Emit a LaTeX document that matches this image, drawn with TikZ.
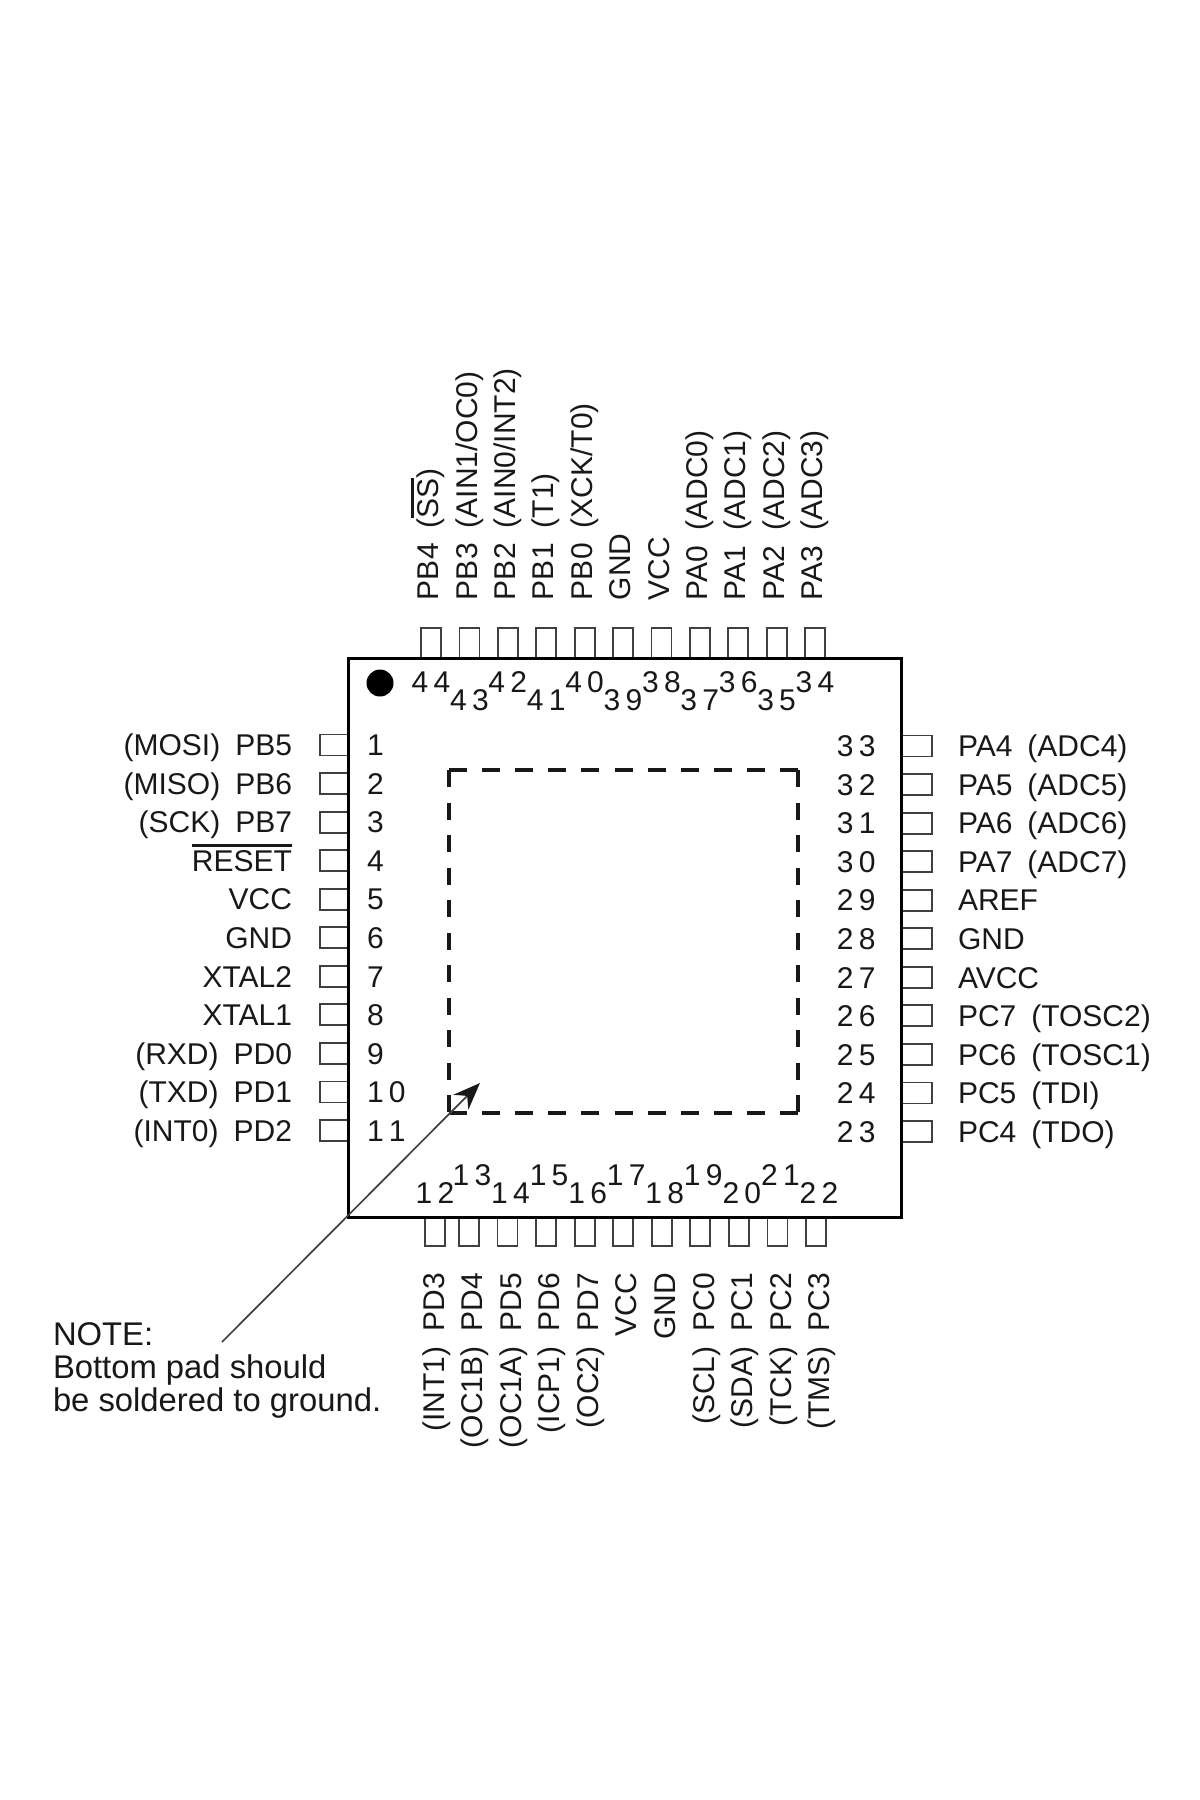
\documentclass[tikz,border=0pt]{standalone}
\usepackage{xcolor}
\usepackage{fontspec}
\usepackage{tikz}
\usetikzlibrary{arrows.meta}
\setmainfont{Liberation Sans}
\definecolor{inkdark}{HTML}{181818}
\definecolor{padgrey}{HTML}{404040}
\newcommand{\pinno}[2]{#1\kern5.3pt #2}
\newcommand{\pingap}{\hspace{15pt}}
\newcommand{\barred}[1]{\leavevmode\setbox0=\hbox{#1}\rlap{\raisebox{24.5pt}{\rule{\wd0}{3pt}}}\box0}
\tikzset{
  pinpad/.style={rectangle, draw=padgrey, line width=1.8pt, inner sep=0pt, outer sep=0pt},
  lpad/.style={pinpad, minimum width=28pt, minimum height=21pt, node distance=38.55pt},
  rpad/.style={pinpad, minimum width=30pt, minimum height=21pt, node distance=38.55pt},
  tpad/.style={pinpad, minimum width=20pt, minimum height=30pt, node distance=38.4pt},
  bpad/.style={pinpad, minimum width=20pt, minimum height=29pt, node distance=38.55pt},
  pintext/.style={text=inkdark, inner sep=0pt, outer sep=0pt, text height=21.5pt, text depth=0pt, font=\fontsize{30}{32}\selectfont},
  ltext/.style={pintext, node distance=42pt, anchor=east},
  rtext/.style={pintext, node distance=41pt, anchor=west},
  ttext/.style={pintext, node distance=43pt, anchor=west, xshift=-3pt, rotate=90},
  btext/.style={pintext, node distance=41.5pt, anchor=east, xshift=3pt, rotate=90},
  lnum/.style={pintext, node distance=33pt, anchor=west},
  rnum/.style={pintext, node distance=41.5pt, anchor=east},
  tnumhigh/.style={pintext, node distance=39pt},
  tnumlow/.style={pintext, node distance=57pt},
  bnumlow/.style={pintext, node distance=38.5pt, xshift=3pt},
  bnumhigh/.style={pintext, node distance=56.5pt, xshift=3pt},
  dashh/.style={draw=inkdark, line width=3.4pt, dash pattern=on 18pt off 15.1pt},
  dashv/.style={draw=inkdark, line width=3.4pt, dash pattern=on 17pt off 15.5pt},
  notearrow/.style={draw=padgrey, line width=1.7pt, -{Stealth[length=27pt, width=21pt, color=inkdark]}},
  notetext/.style={text=inkdark, inner sep=0pt, outer sep=0pt, align=left, anchor=north west, font=\fontsize{32.8}{33}\selectfont}
}
\begin{document}
\begin{tikzpicture}[x=1pt, y=1pt]
\useasboundingbox (0,0) rectangle (1200,-1800);

\node (lpad1) [lpad] at (334,-745) {};
\node (lpad2) [lpad, below of=lpad1] {};
\node (lpad3) [lpad, below of=lpad2] {};
\node (lpad4) [lpad, below of=lpad3] {};
\node (lpad5) [lpad, below of=lpad4] {};
\node (lpad6) [lpad, below of=lpad5] {};
\node (lpad7) [lpad, below of=lpad6] {};
\node (lpad8) [lpad, below of=lpad7] {};
\node (lpad9) [lpad, below of=lpad8] {};
\node (lpad10) [lpad, below of=lpad9] {};
\node (lpad11) [lpad, below of=lpad10] {};

\node (bpad12) [bpad] at (435,-1231.5) {};
\node (bpad13) [bpad, right of=bpad12, node distance=34pt] {};
\node (bpad14) [bpad, right of=bpad13] {};
\node (bpad15) [bpad, right of=bpad14] {};
\node (bpad16) [bpad, right of=bpad15] {};
\node (bpad17) [bpad, right of=bpad16] {};
\node (bpad18) [bpad, right of=bpad17] {};
\node (bpad19) [bpad, right of=bpad18] {};
\node (bpad20) [bpad, right of=bpad19] {};
\node (bpad21) [bpad, right of=bpad20] {};
\node (bpad22) [bpad, right of=bpad21] {};

\node (rpad33) [rpad] at (917,-746) {};
\node (rpad32) [rpad, below of=rpad33] {};
\node (rpad31) [rpad, below of=rpad32] {};
\node (rpad30) [rpad, below of=rpad31] {};
\node (rpad29) [rpad, below of=rpad30] {};
\node (rpad28) [rpad, below of=rpad29] {};
\node (rpad27) [rpad, below of=rpad28] {};
\node (rpad26) [rpad, below of=rpad27] {};
\node (rpad25) [rpad, below of=rpad26] {};
\node (rpad24) [rpad, below of=rpad25] {};
\node (rpad23) [rpad, below of=rpad24] {};

\node (tpad44) [tpad] at (431,-643) {};
\node (tpad43) [tpad, right of=tpad44] {};
\node (tpad42) [tpad, right of=tpad43] {};
\node (tpad41) [tpad, right of=tpad42] {};
\node (tpad40) [tpad, right of=tpad41] {};
\node (tpad39) [tpad, right of=tpad40] {};
\node (tpad38) [tpad, right of=tpad39] {};
\node (tpad37) [tpad, right of=tpad38] {};
\node (tpad36) [tpad, right of=tpad37] {};
\node (tpad35) [tpad, right of=tpad36] {};
\node (tpad34) [tpad, right of=tpad35] {};

\node (body) [rectangle, draw=black, line width=3pt, inner sep=0pt, outer sep=0pt, minimum width=553.5pt, minimum height=559pt] at (624.75,-937.5) {};
\node (dot) [circle, fill=black, inner sep=0pt, minimum size=27pt] at (380,-683) {};
\node (thermal) [rectangle, inner sep=0pt, outer sep=0pt, minimum width=349pt, minimum height=343pt] at (623.5,-941.5) {};
\draw[dashh] (thermal.north west) -- (thermal.north east);
\draw[dashh] (thermal.south west) -- (thermal.south east);
\draw[dashv] (thermal.north west) -- (thermal.south west);
\draw[dashv] (thermal.north east) -- (thermal.south east);

\node (ltext1) [left of=lpad1, ltext] {(MOSI)\pingap PB5};
\node (ltext2) [left of=lpad2, ltext] {(MISO)\pingap PB6};
\node (ltext3) [left of=lpad3, ltext] {(SCK)\pingap PB7};
\node (ltext4) [left of=lpad4, ltext] {\barred{RESET}};
\node (ltext5) [left of=lpad5, ltext] {VCC};
\node (ltext6) [left of=lpad6, ltext] {GND};
\node (ltext7) [left of=lpad7, ltext] {XTAL2};
\node (ltext8) [left of=lpad8, ltext] {XTAL1};
\node (ltext9) [left of=lpad9, ltext] {(RXD)\pingap PD0};
\node (ltext10) [left of=lpad10, ltext] {(TXD)\pingap PD1};
\node (ltext11) [left of=lpad11, ltext] {(INT0)\pingap PD2};

\node (lnum1) [right of=lpad1, lnum] {1};
\node (lnum2) [right of=lpad2, lnum] {2};
\node (lnum3) [right of=lpad3, lnum] {3};
\node (lnum4) [right of=lpad4, lnum] {4};
\node (lnum5) [right of=lpad5, lnum] {5};
\node (lnum6) [right of=lpad6, lnum] {6};
\node (lnum7) [right of=lpad7, lnum] {7};
\node (lnum8) [right of=lpad8, lnum] {8};
\node (lnum9) [right of=lpad9, lnum] {9};
\node (lnum10) [right of=lpad10, lnum] {\pinno{1}{0}};
\node (lnum11) [right of=lpad11, lnum] {\pinno{1}{1}};

\node (btext12) [below of=bpad12, xshift=-4pt, btext] {(INT1)\pingap PD3};
\node (btext13) [below of=bpad13, btext] {(OC1B)\pingap PD4};
\node (btext14) [below of=bpad14, btext] {(OC1A)\pingap PD5};
\node (btext15) [below of=bpad15, btext] {(ICP1)\pingap PD6};
\node (btext16) [below of=bpad16, btext] {(OC2)\pingap PD7};
\node (btext17) [below of=bpad17, btext] {VCC};
\node (btext18) [below of=bpad18, btext] {GND};
\node (btext19) [below of=bpad19, btext] {(SCL)\pingap PC0};
\node (btext20) [below of=bpad20, btext] {(SDA)\pingap PC1};
\node (btext21) [below of=bpad21, btext] {(TCK)\pingap PC2};
\node (btext22) [below of=bpad22, btext] {(TMS)\pingap PC3};

\node (bnum12) [above of=bpad12, xshift=-3pt, bnumlow] {\pinno{1}{2}};
\node (bnum13) [above of=bpad13, bnumhigh] {\pinno{1}{3}};
\node (bnum14) [above of=bpad14, bnumlow] {\pinno{1}{4}};
\node (bnum15) [above of=bpad15, bnumhigh] {\pinno{1}{5}};
\node (bnum16) [above of=bpad16, bnumlow] {\pinno{1}{6}};
\node (bnum17) [above of=bpad17, bnumhigh] {\pinno{1}{7}};
\node (bnum18) [above of=bpad18, bnumlow] {\pinno{1}{8}};
\node (bnum19) [above of=bpad19, bnumhigh] {\pinno{1}{9}};
\node (bnum20) [above of=bpad20, bnumlow] {\pinno{2}{0}};
\node (bnum21) [above of=bpad21, bnumhigh] {\pinno{2}{1}};
\node (bnum22) [above of=bpad22, bnumlow] {\pinno{2}{2}};

\node (rtext33) [right of=rpad33, rtext] {PA4\pingap(ADC4)};
\node (rtext32) [right of=rpad32, rtext] {PA5\pingap(ADC5)};
\node (rtext31) [right of=rpad31, rtext] {PA6\pingap(ADC6)};
\node (rtext30) [right of=rpad30, rtext] {PA7\pingap(ADC7)};
\node (rtext29) [right of=rpad29, rtext] {AREF};
\node (rtext28) [right of=rpad28, rtext] {GND};
\node (rtext27) [right of=rpad27, rtext] {AVCC};
\node (rtext26) [right of=rpad26, rtext] {PC7\pingap(TOSC2)};
\node (rtext25) [right of=rpad25, rtext] {PC6\pingap(TOSC1)};
\node (rtext24) [right of=rpad24, rtext] {PC5\pingap(TDI)};
\node (rtext23) [right of=rpad23, rtext] {PC4\pingap(TDO)};

\node (rnum33) [left of=rpad33, rnum] {\pinno{3}{3}};
\node (rnum32) [left of=rpad32, rnum] {\pinno{3}{2}};
\node (rnum31) [left of=rpad31, rnum] {\pinno{3}{1}};
\node (rnum30) [left of=rpad30, rnum] {\pinno{3}{0}};
\node (rnum29) [left of=rpad29, rnum] {\pinno{2}{9}};
\node (rnum28) [left of=rpad28, rnum] {\pinno{2}{8}};
\node (rnum27) [left of=rpad27, rnum] {\pinno{2}{7}};
\node (rnum26) [left of=rpad26, rnum] {\pinno{2}{6}};
\node (rnum25) [left of=rpad25, rnum] {\pinno{2}{5}};
\node (rnum24) [left of=rpad24, rnum] {\pinno{2}{4}};
\node (rnum23) [left of=rpad23, rnum] {\pinno{2}{3}};

\node (ttext44) [above of=tpad44, ttext] {PB4\pingap(\barred{SS})};
\node (ttext43) [above of=tpad43, ttext] {PB3\pingap(AIN1/OC0)};
\node (ttext42) [above of=tpad42, ttext] {PB2\pingap(AIN0/INT2)};
\node (ttext41) [above of=tpad41, ttext] {PB1\pingap(T1)};
\node (ttext40) [above of=tpad40, ttext] {PB0\pingap(XCK/T0)};
\node (ttext39) [above of=tpad39, ttext] {GND};
\node (ttext38) [above of=tpad38, ttext] {VCC};
\node (ttext37) [above of=tpad37, ttext] {PA0\pingap(ADC0)};
\node (ttext36) [above of=tpad36, ttext] {PA1\pingap(ADC1)};
\node (ttext35) [above of=tpad35, ttext] {PA2\pingap(ADC2)};
\node (ttext34) [above of=tpad34, ttext] {PA3\pingap(ADC3)};

\node (tnum44) [below of=tpad44, tnumhigh] {\pinno{4}{4}};
\node (tnum43) [below of=tpad43, tnumlow] {\pinno{4}{3}};
\node (tnum42) [below of=tpad42, tnumhigh] {\pinno{4}{2}};
\node (tnum41) [below of=tpad41, tnumlow] {\pinno{4}{1}};
\node (tnum40) [below of=tpad40, tnumhigh] {\pinno{4}{0}};
\node (tnum39) [below of=tpad39, tnumlow] {\pinno{3}{9}};
\node (tnum38) [below of=tpad38, tnumhigh] {\pinno{3}{8}};
\node (tnum37) [below of=tpad37, tnumlow] {\pinno{3}{7}};
\node (tnum36) [below of=tpad36, tnumhigh] {\pinno{3}{6}};
\node (tnum35) [below of=tpad35, tnumlow] {\pinno{3}{5}};
\node (tnum34) [below of=tpad34, tnumhigh] {\pinno{3}{4}};

\node (note) [notetext] at (53,-1323) {NOTE:\\Bottom pad should\\be soldered to ground.};
\coordinate (arrowtail) at (222,-1342);
\coordinate (arrowtip) at (480,-1083);
\draw[notearrow] (arrowtail) -- (arrowtip);
\end{tikzpicture}
\end{document}
